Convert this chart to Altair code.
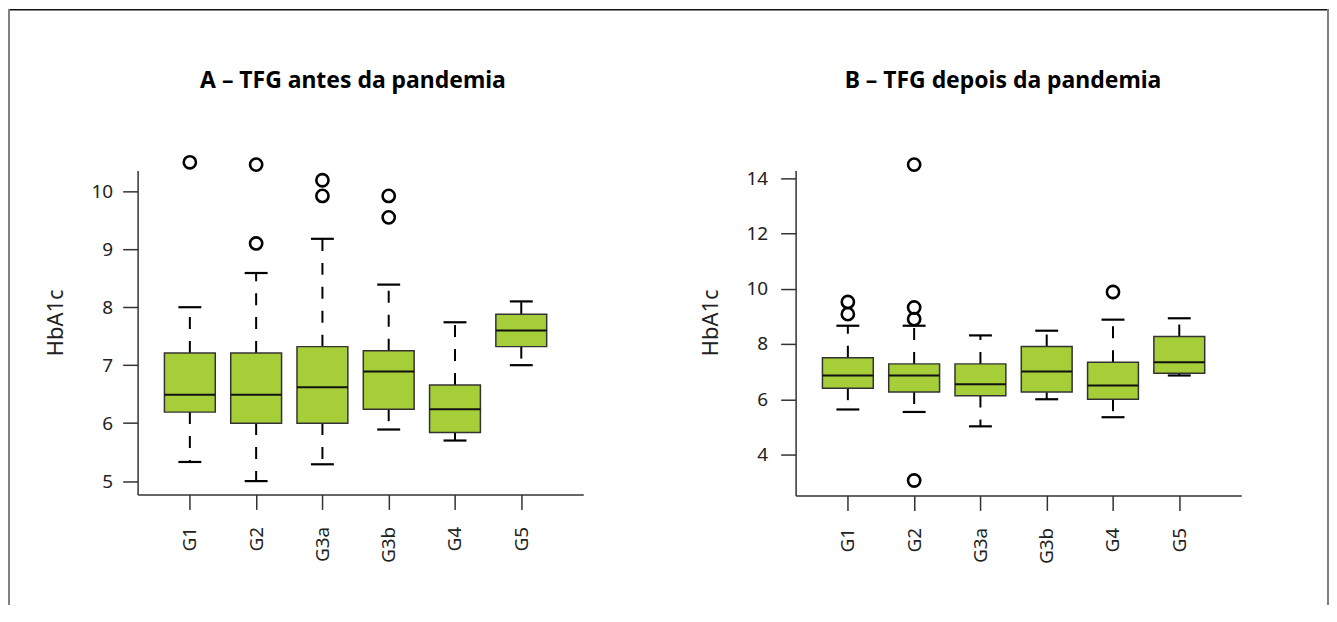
import json
import altair as alt
import pandas as pd

# ---------------- data ----------------
groups = ["G1", "G2", "G3a", "G3b", "G4", "G5"]
titles = ["A – TFG antes da pandemia", "B – TFG depois da pandemia"]
y_title = "HbA1c"

a_low = [5.33, 5.00, 5.29, 5.89, 5.70, 7.00]
a_q1 = [6.19, 6.00, 6.00, 6.24, 5.84, 7.32]
a_med = [6.49, 6.49, 6.62, 6.89, 6.24, 7.60]
a_q3 = [7.21, 7.21, 7.32, 7.25, 6.66, 7.88]
a_high = [8.00, 8.59, 9.18, 8.39, 7.74, 8.10]
a_out = [[10.50], [10.46, 9.10], [10.19, 9.92], [9.92, 9.55], [], []]

b_low = [5.63, 5.54, 5.02, 6.00, 5.35, 6.86]
b_q1 = [6.40, 6.26, 6.13, 6.26, 6.00, 6.94]
b_med = [6.86, 6.86, 6.54, 7.00, 6.50, 7.34]
b_q3 = [7.50, 7.28, 7.28, 7.91, 7.34, 8.27]
b_high = [8.66, 8.66, 8.31, 8.48, 8.88, 8.93]
b_out = [[9.52, 9.08], [14.49, 9.32, 8.90, 3.06], [], [], [9.88], []]

a_ticks = [5, 6, 7, 8, 9, 10]
b_ticks = [4, 6, 8, 10, 12, 14]

# ---------------- style ----------------
W, H = 1325, 598
FONT = "Noto Sans"
GREEN = "#A6CE39"
DARK = "#222222"
label_expr = json.dumps(groups) + "[datum.value - 1]"


def panel(low, q1, med, q3, high, out, x_range, x_off, y_dom, y_rng, y_ticks, y_off, lab_pad):
    pos = list(range(1, len(groups) + 1))
    stats = pd.DataFrame({"pos": pos, "lo": low, "q1": q1, "med": med, "q3": q3, "hi": high})
    orows = [{"pos": p, "v": v} for p, vals in zip(pos, out) for v in vals]
    outdf = pd.DataFrame(orows)

    xax = alt.Axis(values=pos, labelExpr=label_expr, orient="bottom", offset=x_off,
                   tickSize=15, labelAngle=270, labelPadding=17, title=None, grid=False,
                   labelFontSize=19, labelFont=FONT, labelColor=DARK,
                   domainColor="#333333", domainWidth=1.5, tickColor="#333333", tickWidth=1.5)
    yax = alt.Axis(values=y_ticks, orient="left", offset=y_off, tickSize=15, labelPadding=lab_pad,
                   title=y_title, titleFontSize=22, titleFontWeight="normal", titleFont=FONT,
                   titleColor=DARK, titlePadding=24, titleY=314.5, grid=False,
                   labelFontSize=19, labelFont=FONT, labelColor=DARK,
                   domainColor="#333333", domainWidth=1.5, tickColor="#333333", tickWidth=1.5)
    xs = alt.Scale(domain=[0.287, 6.86], range=x_range, nice=False, zero=False)
    ys = alt.Scale(domain=y_dom, range=y_rng, nice=False, zero=False)

    X = alt.X("pos:Q", scale=xs, axis=xax)

    def Y(f):
        return alt.Y(f + ":Q", scale=ys, axis=yax, title=y_title)

    base = alt.Chart(stats)
    w_up = base.mark_rule(color="black", strokeWidth=2, strokeDash=[12, 12]).encode(
        x=X, y=Y("q3"), y2="hi:Q")
    w_lo = base.mark_rule(color="black", strokeWidth=2, strokeDash=[12, 12]).encode(
        x=X, y=Y("q1"), y2="lo:Q")
    box = base.mark_bar(size=51, fill=GREEN, stroke="#333333", strokeWidth=1.5, opacity=1).encode(
        x=X, y=Y("q1"), y2="q3:Q")
    med_t = base.mark_tick(orient="horizontal", size=51, thickness=2, color="#111111", opacity=1).encode(
        x=X, y=Y("med"))
    cap_hi = base.mark_tick(orient="horizontal", size=23, thickness=2.2, color="black", opacity=1).encode(
        x=X, y=Y("hi"))
    cap_lo = base.mark_tick(orient="horizontal", size=23, thickness=2.2, color="black", opacity=1).encode(
        x=X, y=Y("lo"))
    pts = alt.Chart(outdf).mark_point(shape="circle", filled=False, size=150, strokeWidth=2.6,
                                      color="black", opacity=1).encode(x=X, y=Y("v"))
    return alt.layer(w_up, w_lo, box, med_t, cap_hi, cap_lo, pts)


left = panel(a_low, a_q1, a_med, a_q3, a_high, a_out, [130, 577], -111,
             [4.77, 10.36], [487, 162], a_ticks, -130, 10)
right = panel(b_low, b_q1, b_med, b_q3, b_high, b_out, [790, 1237], -110,
              [2.52, 14.28], [488, 162], b_ticks, -790, 13)

dummy = pd.DataFrame({"d": [0]})
t_left = alt.Chart(pd.DataFrame({"t": [titles[0]]})).mark_text(
    font=FONT, fontSize=23, fontWeight="bold", color="black", align="center", baseline="alphabetic"
).encode(text="t:N", x=alt.value(346), y=alt.value(79))
t_right = alt.Chart(pd.DataFrame({"t": [titles[1]]})).mark_text(
    font=FONT, fontSize=23, fontWeight="bold", color="black", align="center", baseline="alphabetic"
).encode(text="t:N", x=alt.value(998), y=alt.value(79))

top_rule = alt.Chart(dummy).mark_rule(color="#111111", strokeWidth=1.6).encode(
    x=alt.value(0), x2=alt.value(W), y=alt.value(0.8))
left_rule = alt.Chart(dummy).mark_rule(color="#808080", strokeWidth=2).encode(
    x=alt.value(1), y=alt.value(0), y2=alt.value(H))
right_rule = alt.Chart(dummy).mark_rule(color="#808080", strokeWidth=2).encode(
    x=alt.value(W - 1), y=alt.value(0), y2=alt.value(H))

chart = alt.layer(left, right, t_left, t_right, top_rule, left_rule, right_rule).resolve_scale(
    x="independent", y="independent"
).properties(
    width=W, height=H, padding=0, autosize=alt.AutoSizeParams(type="none"),
    background="white"
).configure_view(stroke=None)

chart.save("out.html", embed_options={"renderer": "svg", "actions": False})
